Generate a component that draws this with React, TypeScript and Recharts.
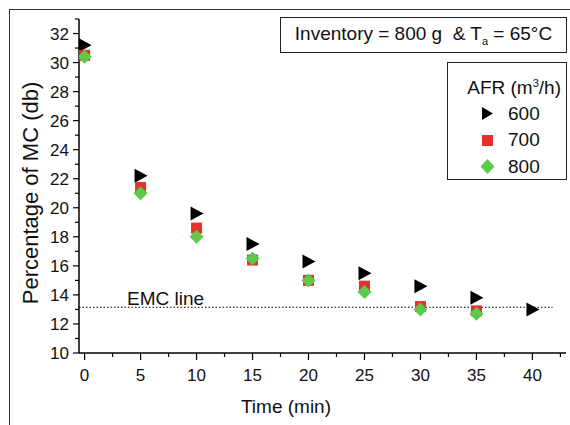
import React from 'react';
import { ScatterChart, Scatter, XAxis, YAxis, ReferenceLine } from 'recharts';

// time points (min) and moisture content (% db) per air flow rate
const times = [0, 5, 10, 15, 20, 25, 30, 35, 40];
const afr600 = [31.2, 22.2, 19.6, 17.5, 16.3, 15.5, 14.6, 13.8, 13.0];
const afr700 = [30.5, 21.4, 18.6, 16.4, 15.0, 14.6, 13.2, 12.9];
const afr800 = [30.4, 21.0, 18.0, 16.5, 15.0, 14.2, 13.0, 12.7];
const emcValue = 13.15;

const xTicks = [0, 2.5, 5, 7.5, 10, 12.5, 15, 17.5, 20, 22.5, 25, 27.5, 30, 32.5, 35, 37.5, 40, 42.5];
const yTicks = [10, 11, 12, 13, 14, 15, 16, 17, 18, 19, 20, 21, 22, 23, 24, 25, 26, 27, 28, 29, 30, 31, 32, 33];

const toPoints = (vals: number[]) => vals.map((v, i) => ({ t: times[i], mc: v }));

const FONT = 'Liberation Sans, Arial, sans-serif';

const Triangle = (p: any) => (
  <polygon points={`${p.cx - 6},${p.cy - 7} ${p.cx + 7},${p.cy} ${p.cx - 6},${p.cy + 7}`} fill="#000" />
);
const Square = (p: any) => <rect x={p.cx - 5.5} y={p.cy - 5.5} width={11} height={11} fill="#e8302a" />;
const Diamond = (p: any) => (
  <polygon points={`${p.cx},${p.cy - 7} ${p.cx + 7},${p.cy} ${p.cx},${p.cy + 7} ${p.cx - 7},${p.cy}`} fill="#5ec94a" />
);

const XTick = (props: any) => {
  const { x, y, payload } = props;
  const major = payload.value % 5 === 0;
  return (
    <g>
      <line x1={x} y1={y} x2={x} y2={y + (major ? 7 : 4)} stroke="#000" strokeWidth={1.2} />
      {major && (
        <text x={x} y={y + 28} textAnchor="middle" fontSize={17} fontFamily={FONT} fill="#111">
          {payload.value}
        </text>
      )}
    </g>
  );
};

const YTick = (props: any) => {
  const { x, y, payload } = props;
  const major = payload.value % 2 === 0 && payload.value <= 32;
  return (
    <g>
      <line x1={x} y1={y} x2={x - (major ? 6 : 4)} y2={y} stroke="#000" strokeWidth={1.2} />
      {major && (
        <text x={x - 10} y={y + 6} textAnchor="end" fontSize={17} fontFamily={FONT} fill="#111">
          {payload.value}
        </text>
      )}
    </g>
  );
};

const LegendBox = () => {
  const rows = [
    { label: '600', icon: <polygon points="2,2 13,8.5 2,15" fill="#000" /> },
    { label: '700', icon: <rect x={2} y={3} width={11} height={11} fill="#e8302a" /> },
    { label: '800', icon: <polygon points="7.5,1 14.5,8.5 7.5,16 0.5,8.5" fill="#5ec94a" /> },
  ];
  return (
    <div style={{ position: 'absolute', left: 447, top: 62, border: '1px solid #222', width: 120, height: 118, fontFamily: FONT, background: '#fff', boxSizing: 'border-box', color: '#111' }}>
      <div style={{ fontSize: 19, textAlign: 'right', paddingRight: 5, marginTop: 8, lineHeight: '24px', whiteSpace: 'nowrap' }}>
        AFR (m<sup style={{ fontSize: 11 }}>3</sup>/h)
      </div>
      {rows.map((r) => (
        <div key={r.label} style={{ display: 'flex', alignItems: 'center', height: 26.5, paddingLeft: 32 }}>
          <svg width={16} height={17}>{r.icon}</svg>
          <span style={{ fontSize: 19, marginLeft: 12 }}>{r.label}</span>
        </div>
      ))}
    </div>
  );
};

export default function App() {
  return (
    <div style={{ position: 'absolute', left: 0, top: 0, width: 570, height: 425, background: '#fff' }}>
      <div style={{ position: 'absolute', left: 9, top: 9, width: 561, height: 416, borderTop: '1.5px solid #333', borderLeft: '1.5px solid #333' }} />
      <ScatterChart width={570} height={425} margin={{ top: 19, right: 4, bottom: 0, left: 0 }}>
        <XAxis
          type="number"
          dataKey="t"
          domain={[-0.5, 43]}
          ticks={xTicks}
          interval={0}
          allowDataOverflow
          tickSize={0}
          tickMargin={0}
          tickLine={false}
          tick={<XTick />}
          axisLine={{ stroke: '#000', strokeWidth: 1.5 }}
          height={72}
          label={() => (
            <text x={286} y={413} textAnchor="middle" fontSize={19} fontFamily={FONT} fill="#111">
              Time (min)
            </text>
          )}
        />
        <YAxis
          type="number"
          dataKey="mc"
          domain={[10, 33]}
          ticks={yTicks}
          interval={0}
          allowDataOverflow
          tickSize={0}
          tickMargin={0}
          tickLine={false}
          tick={<YTick />}
          axisLine={{ stroke: '#000', strokeWidth: 1.5 }}
          width={79}
          label={() => (
            <text x={38} y={193} transform="rotate(-90, 38, 193)" textAnchor="middle" fontSize={22} fontFamily={FONT} fill="#111">
              Percentage of MC (db)
            </text>
          )}
        />
        <ReferenceLine
          segment={[{ x: -0.5, y: emcValue }, { x: 41.8, y: emcValue }]}
          stroke="#000"
          strokeDasharray="1.5 2"
          strokeWidth={1}
          label={(p: any) => (
            <text x={p.viewBox.x + 48} y={p.viewBox.y - 2} fontSize={19} fontFamily={FONT} fill="#111">
              EMC line
            </text>
          )}
        />
        <Scatter name="600" data={toPoints(afr600)} shape={Triangle} isAnimationActive={false} />
        <Scatter name="700" data={toPoints(afr700)} shape={Square} isAnimationActive={false} />
        <Scatter name="800" data={toPoints(afr800)} shape={Diamond} isAnimationActive={false} />
      </ScatterChart>
      <LegendBox />
      <div
        style={{
          position: 'absolute', left: 280, top: 17, width: 287, height: 36, border: '1px solid #222', boxSizing: 'border-box',
          fontFamily: FONT, fontSize: 19, display: 'flex', alignItems: 'center', justifyContent: 'center', background: '#fff', color: '#111',
        }}
      >
        <span style={{ whiteSpace: 'pre' }}>
          Inventory = 800 g  &amp; T<sub style={{ fontSize: 11 }}>a</sub> = 65°C
        </span>
      </div>
    </div>
  );
}
